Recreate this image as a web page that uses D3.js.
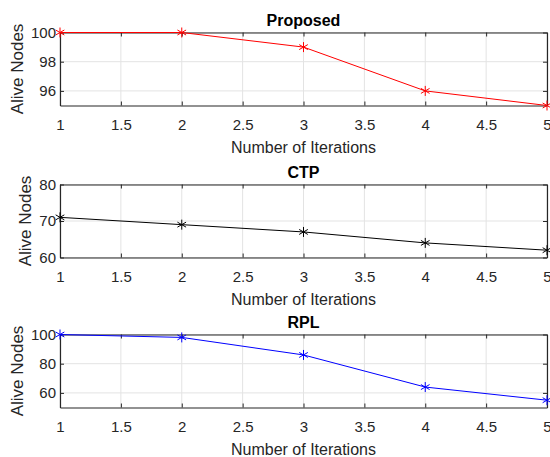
<!DOCTYPE html>
<html>
<head>
<meta charset="utf-8">
<script src="https://cdn.jsdelivr.net/npm/d3@7"></script>
<style>
  html, body { margin: 0; padding: 0; background: #fff; }
  svg { display: block; font-family: "Liberation Sans", Arial, sans-serif; }
</style>
</head>
<body>
<div id="chart"></div>
<script>
// data
var iterations = [1, 2, 3, 4, 5];
var proposedNodes = [100, 100, 99, 96, 95];
var ctpNodes = [71, 69, 67, 64, 62];
var rplNodes = [100, 98, 86, 64, 55];

var panelTitles = ["Proposed", "CTP", "RPL"];
var panelValues = [proposedNodes, ctpNodes, rplNodes];
var panelDomains = [[95, 100], [60, 80], [50, 100]];
var panelYTicks = [[96, 98, 100], [60, 70, 80], [60, 80, 100]];
var xTicks = [1, 1.5, 2, 2.5, 3, 3.5, 4, 4.5, 5];

var lineColors = ["#ff0000", "#000000", "#0000ff"];
var panelTops = [32.5, 184.5, 334.5];
var panelHeight = 73;

var width = 550, height = 457;
var left = 60, right = 547;
var textColor = "#262626";

var svg = d3.select("#chart").append("svg")
    .attr("width", width)
    .attr("height", height);

var x = d3.scaleLinear().domain([1, 5]).range([left, right]);

panelTitles.forEach(function(title, p) {
    var top = panelTops[p];
    var bottom = top + panelHeight;
    var y = d3.scaleLinear().domain(panelDomains[p]).range([bottom, top]);
    var g = svg.append("g");

    // grid
    g.selectAll("line.vgrid").data(xTicks).enter().append("line")
        .attr("x1", function(d) { return x(d); })
        .attr("x2", function(d) { return x(d); })
        .attr("y1", top).attr("y2", bottom)
        .attr("stroke", "#e3e3e3").attr("stroke-width", 1);
    g.selectAll("line.hgrid").data(panelYTicks[p]).enter().append("line")
        .attr("x1", left).attr("x2", right)
        .attr("y1", function(d) { return y(d); })
        .attr("y2", function(d) { return y(d); })
        .attr("stroke", "#e3e3e3").attr("stroke-width", 1);

    // axes with inward ticks on all sides
    var xb = g.append("g").attr("transform", "translate(0," + bottom + ")")
        .call(d3.axisBottom(x).tickValues(xTicks).tickSizeInner(-4).tickSizeOuter(0)
            .tickFormat(d3.format("")));
    var xt = g.append("g").attr("transform", "translate(0," + top + ")")
        .call(d3.axisTop(x).tickValues(xTicks).tickSizeInner(-4).tickSizeOuter(0).tickFormat(""));
    var yl = g.append("g").attr("transform", "translate(" + left + ",0)")
        .call(d3.axisLeft(y).tickValues(panelYTicks[p]).tickSizeInner(-4).tickSizeOuter(0).tickPadding(4)
            .tickFormat(d3.format("d")));
    var yr = g.append("g").attr("transform", "translate(" + right + ",0)")
        .call(d3.axisRight(y).tickValues(panelYTicks[p]).tickSizeInner(-4).tickSizeOuter(0).tickFormat(""));

    [xb, xt, yl, yr].forEach(function(a) {
        a.select(".domain").attr("stroke", textColor).attr("stroke-width", 1.2);
        a.selectAll(".tick line").attr("stroke", textColor);
        a.selectAll("text").attr("fill", textColor).style("font-size", "15px")
            .style("font-family", "'Liberation Sans', Arial, sans-serif");
    });
    xb.selectAll("text").attr("dy", "0.32em").attr("y", 20);

    // line and markers
    var line = d3.line()
        .x(function(d, i) { return x(iterations[i]); })
        .y(function(d) { return y(d); });
    g.append("path").datum(panelValues[p])
        .attr("d", line)
        .attr("fill", "none")
        .attr("stroke", lineColors[p])
        .attr("stroke-width", 1);

    var marker = d3.symbol().type(d3.symbolAsterisk).size(70);
    g.selectAll("path.mk").data(panelValues[p]).enter().append("path")
        .attr("class", "mk")
        .attr("d", marker)
        .attr("transform", function(d, i) { return "translate(" + x(iterations[i]) + "," + y(d) + ")"; })
        .attr("fill", "none")
        .attr("stroke", lineColors[p])
        .attr("stroke-width", 1);

    // title
    g.append("text")
        .attr("x", (left + right) / 2)
        .attr("y", top - 7)
        .attr("text-anchor", "middle")
        .attr("fill", "#000")
        .style("font-size", "16px")
        .style("font-weight", "bold")
        .text(title);

    // x label
    g.append("text")
        .attr("x", (left + right) / 2)
        .attr("y", bottom + 47)
        .attr("text-anchor", "middle")
        .attr("fill", textColor)
        .style("font-size", "16px")
        .text("Number of Iterations");

    // y label placed just left of the tick labels
    var tickBox = yl.node().getBBox();
    g.append("text")
        .attr("transform", "translate(" + (left + tickBox.x - 8) + "," + ((top + bottom) / 2) + ") rotate(-90)")
        .attr("text-anchor", "middle")
        .attr("fill", textColor)
        .style("font-size", "17px")
        .text("Alive Nodes");
});
</script>
</body>
</html>
